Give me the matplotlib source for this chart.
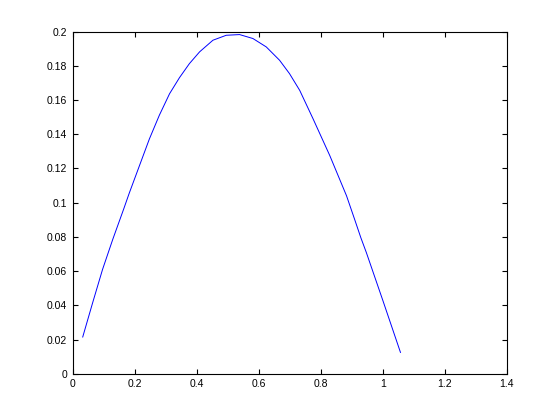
import matplotlib as mpl
mpl.use('Agg')
import matplotlib.pyplot as plt
import numpy as np

# points
x_vals = [0.032, 0.064, 0.096, 0.129, 0.164, 0.182, 0.215, 0.247, 0.279, 0.312,
          0.344, 0.376, 0.409, 0.452, 0.495, 0.538, 0.581, 0.624, 0.667, 0.699,
          0.732, 0.775, 0.829, 0.883, 0.909, 0.929, 0.947, 1.001, 1.057]
y_vals = [0.0215, 0.0415, 0.061, 0.0786, 0.0962, 0.1055, 0.1216, 0.1372, 0.151, 0.1636,
          0.173, 0.1812, 0.1881, 0.1949, 0.1978, 0.1982, 0.1959, 0.191, 0.1832, 0.1754,
          0.1656, 0.149, 0.1275, 0.104, 0.0903, 0.0796, 0.0708, 0.0424, 0.0125]

x_ticks = [0, 0.2, 0.4, 0.6, 0.8, 1, 1.2, 1.4]
x_labels = ['0', '0.2', '0.4', '0.6', '0.8', '1', '1.2', '1.4']
y_ticks = [0, 0.02, 0.04, 0.06, 0.08, 0.1, 0.12, 0.14, 0.16, 0.18, 0.2]
y_labels = ['0', '0.02', '0.04', '0.06', '0.08', '0.1', '0.12', '0.14', '0.16', '0.18', '0.2']

plt.rcParams['font.family'] = ['Liberation Sans', 'DejaVu Sans']

fig = plt.figure(figsize=(5.6, 4.2), dpi=100)
ax = fig.add_axes([0.13, 0.11, 0.775, 0.815])

ax.plot(x_vals, y_vals, '-', color=(0, 0, 1), lw=0.7)

ax.set_xlim(0, 1.4)
ax.set_ylim(0, 0.2)
ax.set_xticks(x_ticks)
ax.set_xticklabels(x_labels)
ax.set_yticks(y_ticks)
ax.set_yticklabels(y_labels)
ax.tick_params(direction='in', length=3.5, width=0.8, labelsize=7.5,
               top=True, right=True, pad=4)
for s in ax.spines.values():
    s.set_linewidth(0.8)

fig.savefig('out.png', dpi=100)
